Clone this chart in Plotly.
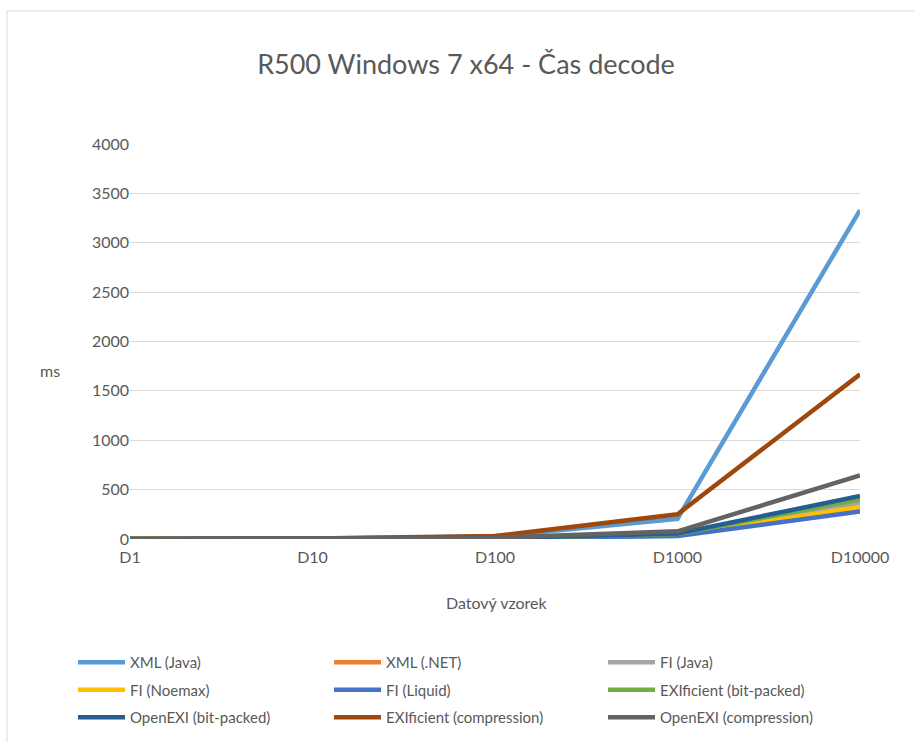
import plotly.graph_objects as go

# Sample sizes on the category axis
samples = ["D1", "D10", "D100", "D1000", "D10000"]

# Decode time in ms per parser / encoding
xml_java = [1, 3, 25, 205, 3330]
xml_net = [1, 2, 8, 45, 320]
fi_java = [1, 2, 7, 45, 362]
fi_noemax = [1, 2, 6, 40, 325]
fi_liquid = [1, 2, 5, 30, 278]
exificient_bit = [1, 2, 8, 50, 400]
openexi_bit = [1, 3, 9, 55, 436]
exificient_comp = [1, 4, 30, 250, 1668]
openexi_comp = [1, 3, 12, 78, 643]

series = [
    ("XML (Java)", xml_java, "#5b9bd5", "legend"),
    ("XML (.NET)", xml_net, "#ed7d31", "legend2"),
    ("FI (Java)", fi_java, "#a5a5a5", "legend3"),
    ("FI (Noemax)", fi_noemax, "#ffc000", "legend"),
    ("FI (Liquid)", fi_liquid, "#4472c4", "legend2"),
    ("EXIficient (bit-packed)", exificient_bit, "#70ad47", "legend3"),
    ("OpenEXI (bit-packed)", openexi_bit, "#255e91", "legend"),
    ("EXIficient (compression)", exificient_comp, "#9e480e", "legend2"),
    ("OpenEXI (compression)", openexi_comp, "#636363", "legend3"),
]

W, H = 914, 742
L, R, T, B = 130, 54, 144, 203
PW, PH = W - L - R, H - T - B


def px_x(p):
    return (p - L) / PW


def px_y(p):
    return (H - B - p) / PH


fig = go.Figure()
for name, vals, color, leg in series:
    fig.add_trace(go.Scatter(
        x=samples, y=vals, name=name, mode="lines",
        line=dict(color=color, width=4.5),
        legend=leg, legendgroup=name,
    ))

text_color = "#595959"
font_family = "Lato, 'Open Sans', sans-serif"

legend_common = dict(
    orientation="v", xanchor="left", yanchor="top",
    xref="container", yref="container",
    font=dict(family=font_family, size=15, color=text_color),
    bgcolor="rgba(0,0,0,0)", borderwidth=0,
    itemwidth=47, tracegroupgap=5, itemclick=False,
)

fig.update_layout(
    width=W, height=H,
    margin=dict(l=L, r=R, t=T, b=B, autoexpand=False),
    paper_bgcolor="white", plot_bgcolor="white",
    title=dict(
        text="R500 Windows 7 x64 - Čas decode",
        x=px_x(466), xref="paper", xanchor="center",
        y=1 - 65 / H, yanchor="middle",
        font=dict(family=font_family, size=27, color=text_color),
    ),
    xaxis=dict(
        type="category", range=[0, 4], showgrid=False, zeroline=False,
        showline=False, ticks="", fixedrange=True, ticklabelstandoff=7,
        tickfont=dict(family=font_family, size=16, color=text_color),
    ),
    yaxis=dict(
        range=[0, 4000], dtick=500, showgrid=True, gridcolor="#d9d9d9",
        gridwidth=1, zeroline=False, showline=False, ticks="",
        tickfont=dict(family=font_family, size=16, color=text_color),
        fixedrange=True,
    ),
    legend=dict(legend_common, x=73 / W, y=1 - 646 / H),
    legend2=dict(legend_common, x=329 / W, y=1 - 646 / H),
    legend3=dict(legend_common, x=603 / W, y=1 - 646 / H),
    annotations=[
        dict(text="ms", x=px_x(50), y=px_y(370), xref="paper", yref="paper",
             xanchor="center", yanchor="middle", showarrow=False,
             font=dict(family=font_family, size=16, color=text_color)),
        dict(text="Datový vzorek", x=px_x(497), y=px_y(602), xref="paper", yref="paper",
             xanchor="center", yanchor="middle", showarrow=False,
             font=dict(family=font_family, size=16, color=text_color)),
    ],
    shapes=[
        dict(type="rect", xref="paper", yref="paper",
             x0=px_x(7), x1=px_x(W + 10), y0=px_y(H + 10), y1=px_y(11),
             line=dict(color="#d9d9d9", width=1), fillcolor="rgba(0,0,0,0)"),
    ],
)

fig.write_html("out.html")
